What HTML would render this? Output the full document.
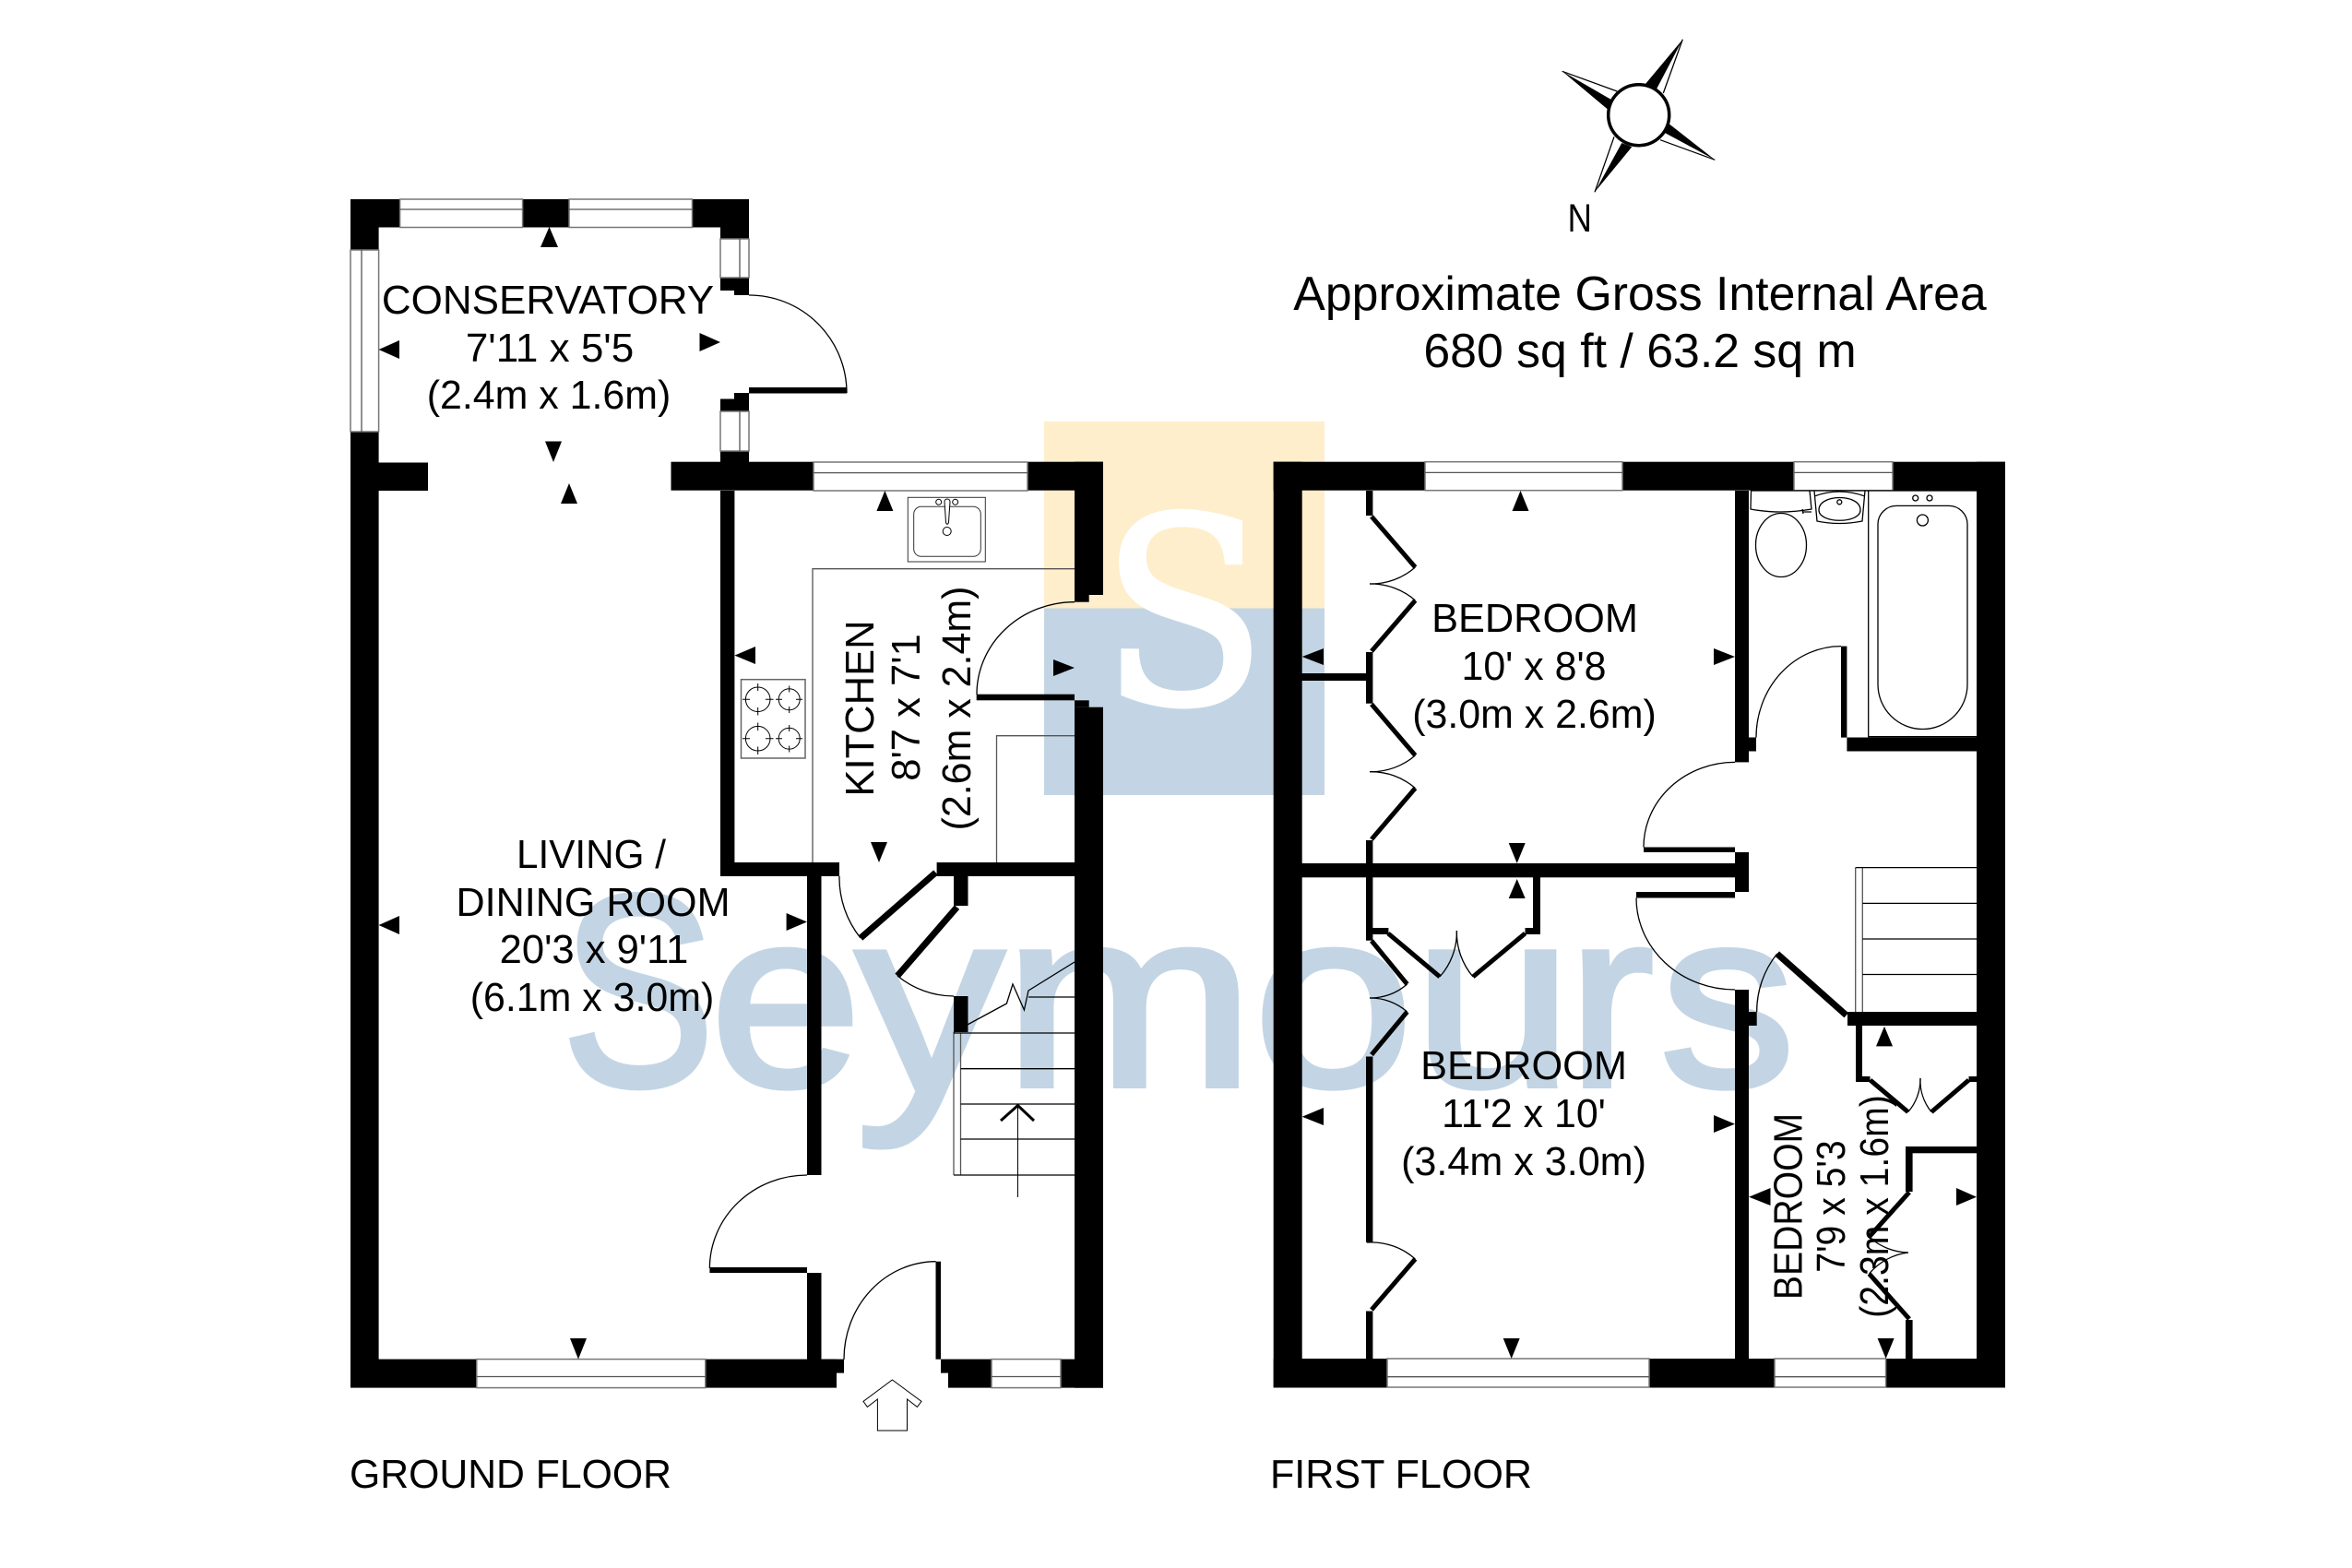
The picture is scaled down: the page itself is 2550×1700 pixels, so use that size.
<!DOCTYPE html>
<html><head><meta charset="utf-8"><style>
html,body{margin:0;padding:0;background:#fff;width:2550px;height:1700px;overflow:hidden}
svg{display:block}
text{font-family:"Liberation Sans",sans-serif;fill:#000}
.t{font-size:44px}
.w{fill:#fff;stroke:#777;stroke-width:1.5}
.l{fill:none;stroke:#000;stroke-width:1.3}
.m{fill:none;stroke:#000;stroke-width:1}
.g{fill:none;stroke:#555;stroke-width:1.3}
.b{fill:none;stroke:#000;stroke-width:7}
</style></head><body>
<svg width="2550" height="1700" viewBox="0 0 2550 1700" xmlns="http://www.w3.org/2000/svg">
<rect width="2550" height="1700" fill="#fff"/>
<!-- watermark -->
<rect x="1132" y="457" width="304" height="203" fill="#FEEECB"/>
<rect x="1132" y="659.5" width="304" height="202.5" fill="#C3D5E4"/>
<text transform="translate(1283.5 762) scale(.94 1)" text-anchor="middle" style="font-family:'DejaVu Serif',serif;font-size:280px;fill:#fff;stroke:#fff;stroke-width:5">S</text>
<text style="fill:#C3D5E4;stroke:#C3D5E4;stroke-width:6;font-size:274px"><tspan x="608.8" y="1176.5" style="font-size:296px" textLength="166.2" lengthAdjust="spacingAndGlyphs">S</tspan><tspan x="769.8" y="1177" textLength="164.4" lengthAdjust="spacingAndGlyphs">e</tspan><tspan x="927.9" y="1184" style="font-size:287px" textLength="160.4" lengthAdjust="spacingAndGlyphs">y</tspan><tspan x="1087.3" y="1177" textLength="273.7" lengthAdjust="spacingAndGlyphs">m</tspan><tspan x="1358.7" y="1177" textLength="174" lengthAdjust="spacingAndGlyphs">o</tspan><tspan x="1532" y="1177" textLength="173.6" lengthAdjust="spacingAndGlyphs">u</tspan><tspan x="1699.8" y="1177" textLength="93.3" lengthAdjust="spacingAndGlyphs">r</tspan><tspan x="1799.9" y="1177" textLength="146.5" lengthAdjust="spacingAndGlyphs">s</tspan></text>

<!-- GROUND FLOOR walls -->
<g fill="#000">
<rect x="380" y="216" width="432" height="30.5"/>
<rect x="380" y="216" width="30.6" height="1288.5"/>
<rect x="781" y="216" width="31" height="99"/>
<rect x="796" y="315" width="16" height="5"/>
<rect x="796" y="426" width="16" height="7"/>
<rect x="781" y="432.5" width="31" height="69"/>
<rect x="812" y="420" width="106" height="6.5"/>
<rect x="380" y="501.5" width="84" height="30.5"/>
<rect x="727.5" y="500.7" width="468.5" height="31"/>
<rect x="1165" y="500.7" width="31" height="144.3"/>
<rect x="1165" y="645" width="15.7" height="7.7"/>
<rect x="1058.7" y="752.7" width="106.3" height="6.6"/>
<rect x="1165" y="759.3" width="15.7" height="7.4"/>
<rect x="1165" y="766.7" width="31" height="738"/>
<rect x="781" y="532" width="15.4" height="418"/>
<rect x="781" y="935" width="129" height="15"/>
<rect x="1015.6" y="935" width="150" height="15"/>
<rect x="875" y="950" width="15.5" height="324"/>
<rect x="769.4" y="1374" width="105.6" height="6"/>
<rect x="875" y="1380" width="15.5" height="94"/>
<rect x="380" y="1473.6" width="527" height="31"/>
<rect x="880" y="1473.6" width="35" height="15"/>
<rect x="1020" y="1473.6" width="8" height="15"/>
<rect x="1028" y="1473.6" width="168" height="31"/>
<rect x="1014.5" y="1367.7" width="5.5" height="106"/>
<rect x="1034" y="950" width="15.5" height="32"/>
<rect x="1034" y="1080" width="15.5" height="39"/>
</g>
<path class="b" d="M933 1017L1014.5 946M1037.5 983.6L973 1058"/>

<!-- ground windows -->
<g class="w">
<rect x="433.6" y="216" width="133" height="30.5"/><rect x="617" y="216" width="133.5" height="30.5"/>
<rect x="380" y="271" width="30.6" height="197"/>
<rect x="781" y="259" width="31" height="42"/><rect x="781" y="446" width="31" height="43"/>
<rect x="882" y="501" width="232" height="31"/>
<rect x="516.8" y="1473.6" width="248" height="31"/>
<rect x="1075" y="1473.6" width="75" height="31"/>
</g>
<path class="g" d="M433.6 227H566.6M617 227H750.5M392 271V468M802 259V301M802 446V489M882 512.6H1114M516.8 1492.5H764.8M1075 1492.5H1150"/>

<!-- ground doors -->
<g class="l">
<path d="M812 320A106 106 0 0 1 918 426"/>
<path d="M1165 652.7A106 100 0 0 0 1059 753"/>
<path d="M875 1274A105.6 101 0 0 0 769.4 1375"/>
<path d="M1014.5 1367.7A100 106 0 0 0 915 1474"/>
<path d="M910 950A104 104 0 0 0 933 1017"/>
<path d="M973 1058A97 97 0 0 0 1034 1080"/>
</g>
<!-- counters -->
<path class="g" d="M1165 616.7H881V935M1165 797.7H1080.5V935"/>
<!-- sink -->
<g class="m">
<rect x="984.3" y="539.3" width="84" height="69.7" stroke="#333"/>
<rect x="990.7" y="549.3" width="72.6" height="54" rx="8" stroke="#333"/>
<path d="M1024 544C1024 540 1030 540 1030 544L1028.5 566C1028 569 1026 569 1025.5 566Z" fill="#fff"/>
<circle cx="1017.7" cy="544.3" r="3"/><circle cx="1035.7" cy="544.3" r="3"/>
<circle cx="1026.7" cy="576" r="4.5"/>
</g>
<!-- hob -->
<g class="m">
<rect x="803.5" y="736.7" width="69.5" height="85.3" stroke="#666" stroke-width="1.5"/>
<circle cx="821.7" cy="758.3" r="13.3"/><circle cx="855.7" cy="758.3" r="11.5"/>
<circle cx="821.7" cy="800.7" r="13.3"/><circle cx="855.7" cy="800.7" r="11.5"/>
<path d="M821.7 741V749M821.7 767V775.5M805 758.3H813M830 758.3H838.5M855.7 743.5V750.5M855.7 766V773M841 758.3H848M863 758.3H870M821.7 783.5V792M821.7 809.5V818M805 800.7H813M830 800.7H838.5M855.7 786V793M855.7 808.5V815.5M841 800.7H848M863 800.7H870"/>
</g>
<!-- stairs ground -->
<path class="g" d="M1034 1119V1274M1041.5 1120V1274"/>
<path class="l" d="M1034 1120H1165M1041.5 1158.7H1165M1041.5 1197H1165M1041.5 1235H1165M1034 1274H1165M1115 1081H1165"/>
<path class="l" d="M1034 1119L1091.4 1088L1098 1067L1110.4 1095L1115 1074L1165 1043"/>
<path class="m" d="M1103.5 1298V1198.5"/>
<path fill="none" stroke="#000" stroke-width="3" d="M1085 1215L1103.5 1198.5L1121 1215"/>
<!-- entrance arrow -->
<path class="m" fill="#fff" d="M967.4 1496L999 1519.4L994.4 1525.4L983.5 1517V1551H951.4V1517L940.4 1525.4L936 1519.4Z"/>

<!-- FIRST FLOOR walls -->
<g fill="#000">
<rect x="1380.7" y="500.7" width="793.3" height="31"/>
<rect x="1380.7" y="500.7" width="31" height="1003.8"/>
<rect x="2143" y="500.7" width="31" height="1003.8"/>
<rect x="1380.7" y="1473" width="793.3" height="31.5"/>
<rect x="1881" y="532" width="15" height="294.4"/>
<rect x="1896" y="799.5" width="8" height="15"/>
<rect x="1996" y="700.6" width="6.4" height="99"/>
<rect x="2002.4" y="799.5" width="140.6" height="15"/>
<rect x="1411" y="936" width="485" height="15.3"/>
<rect x="1881" y="924" width="15" height="43"/>
<rect x="1782" y="918.5" width="99" height="5.5"/>
<rect x="1774" y="967" width="107" height="6.5"/>
<rect x="1881" y="1073" width="15" height="400"/>
<rect x="1896" y="1097" width="8.7" height="15"/>
<rect x="2003" y="1097" width="140" height="15"/>
<rect x="1481" y="532" width="7.4" height="27"/>
<rect x="1481" y="707" width="7.4" height="55.7"/>
<rect x="1411" y="730" width="70" height="8"/>
<rect x="1481" y="911" width="7.4" height="108.7"/>
<rect x="1662" y="951" width="8" height="62"/>
<rect x="1481" y="1006" width="24.4" height="7"/>
<rect x="1653.5" y="1006" width="8.5" height="7"/>
<rect x="1481" y="1145.5" width="7.4" height="201.5"/>
<rect x="1481" y="1421.5" width="7.4" height="51.5"/>
<rect x="2012" y="1112" width="7" height="61"/>
<rect x="2019" y="1167" width="8.5" height="6"/>
<rect x="2134.5" y="1167" width="8.5" height="6"/>
<rect x="2066" y="1243" width="77" height="7.3"/>
<rect x="2066" y="1243" width="7.6" height="49"/>
<rect x="2066" y="1431" width="7.6" height="42"/>
</g>
<g fill="none" stroke="#000" stroke-width="5">
<path d="M1487 560L1534.4 615M1534.4 651L1487 706M1487 763.5L1534.4 819M1534.4 854.5L1487 910"/>
<path d="M1505 1012L1561 1059M1653.5 1012L1597 1059"/>
<path d="M1487 1020L1525.6 1067M1525.6 1097L1487 1143.5"/>
<path d="M1534.4 1365L1487 1420"/>
<path d="M2027.6 1171L2068.7 1205.6M2134.5 1171L2094 1205.6"/>
<path d="M2070 1292.6L2026.5 1341M2070 1430L2026.5 1381"/>
</g>
<path class="b" d="M1926.7 1034L2001.8 1100.8"/>
<!-- first windows -->
<g class="w">
<rect x="1545" y="500.7" width="214" height="31"/><rect x="1945" y="500.7" width="107" height="31"/>
<rect x="1504" y="1473" width="284" height="31"/><rect x="1924" y="1473" width="120.6" height="31"/>
</g>
<path class="g" d="M1545 512.4H1759M1945 512.4H2052M1504 1492.7H1788M1924 1492.7H2044.6"/>
<!-- first doors -->
<g class="l">
<path d="M1904 799.5A92 99 0 0 1 1996 700.6"/>
<path d="M1881 826.4A99 92 0 0 0 1782 918.5"/>
<path d="M1774 973.5A107 99.5 0 0 0 1881 1073"/>
<path d="M1926.7 1034A100 100 0 0 0 1904.7 1097"/>
<path d="M1534.4 615A73 73 0 0 1 1485 633"/><path d="M1534.4 651A73 73 0 0 0 1485 633"/>
<path d="M1534.4 819A73 73 0 0 1 1485 836.7"/><path d="M1534.4 854.5A73 73 0 0 0 1485 836.7"/>
<path d="M1561 1059A73 73 0 0 0 1579.4 1009"/><path d="M1597 1059A74 74 0 0 1 1579.4 1009"/>
<path d="M1525.6 1067A60 60 0 0 1 1485 1082"/><path d="M1525.6 1097A60 60 0 0 0 1485 1082"/>
<path d="M1534.4 1365A72 72 0 0 0 1482 1347"/>
<path d="M2068.7 1205.6A54 54 0 0 0 2082 1169"/><path d="M2094 1205.6A54 54 0 0 1 2082 1169"/>
<path d="M2026.5 1341A65 65 0 0 0 2069 1358"/><path d="M2026.5 1381A65 65 0 0 1 2069 1358"/>
</g>
<!-- stairs first -->
<path class="g" d="M2011.7 940.6V1097M2019.3 940.6V1097"/>
<path class="l" d="M2011.7 940.6H2143M2019.3 979.4H2143M2019.3 1018H2143M2019.3 1056.5H2143"/>
<!-- bathroom -->
<g class="l" fill="none">
<path d="M2025.7 532V798.7H2143M1898 532H2143"/>
<path d="M2036 568A20 20 0 0 1 2056 548.4H2113A20 20 0 0 1 2133 568V742A48.5 48.5 0 0 1 2036 742Z"/>
<circle cx="2084.4" cy="564" r="6"/><circle cx="2076.7" cy="540" r="3"/><circle cx="2092" cy="540" r="3"/>
<path d="M1898.5 532L1898 552Q1930 558 1964 552L1962 532"/>
<ellipse cx="1931" cy="591" rx="27.5" ry="34.5"/>
<path d="M1964 555H1954M1954 552L1955 557"/>
<path d="M1967 532L1970 565Q1994 570 2019 565L2022 532M1967 538Q1994 528 2022 538"/>
<path d="M1972 553C1972 535 2017 535 2017 553C2017 568 1972 568 1972 553Z"/>
<circle cx="1994.3" cy="544.3" r="2.5"/>
</g>

<!-- arrows -->
<g fill="#000">
<path d="M595.5 246L586 268H605Z"/><path d="M410.6 379L433 369V389Z"/><path d="M781 371L758.5 361V381Z"/>
<path d="M600 501L591 478.5H609Z"/><path d="M617 524L608 546H626Z"/><path d="M959.4 532L950.4 554H968.4Z"/>
<path d="M796.4 710.6L819 701V720Z"/><path d="M1165 724L1142 715V733Z"/><path d="M953 935L944 913H962Z"/>
<path d="M410.6 1003L433 993V1013Z"/><path d="M875 999.5L852.6 990V1009Z"/><path d="M627 1473.6L618 1451H636Z"/>
<path d="M1648.5 532L1639.5 554H1657.5Z"/><path d="M1411.7 712L1435 703V721Z"/><path d="M1881 712L1858 703V721Z"/>
<path d="M1644.7 936L1635.7 914H1653.7Z"/><path d="M1644.7 953L1635.7 974H1653.7Z"/>
<path d="M1411.7 1210.7L1435 1201V1220Z"/><path d="M1881 1218.6L1858 1209V1228Z"/><path d="M1638.7 1473L1629.7 1451H1647.7Z"/>
<path d="M1896 1297.7L1919.5 1288V1307Z"/><path d="M2143 1297.7L2121 1288V1307Z"/><path d="M2044.6 1473L2035.6 1451H2053.6Z"/>
<path d="M2043 1112.7L2034 1134.4H2052Z"/>
</g>

<!-- compass -->
<g>
<path fill="#000" d="M1824.3 42.7L1784 91L1796 96.5Z"/><path class="l" d="M1824.3 42.7L1803.3 101"/>
<path fill="#000" d="M1693.7 77.3L1747.3 108.3L1742.7 118.3Z"/><path class="l" d="M1693.7 77.3L1753.3 99"/>
<path fill="#000" d="M1859.3 173.3L1808.3 133.3L1805 144Z"/><path class="l" d="M1859.3 173.3L1800 151.7"/>
<path fill="#000" d="M1729 208.3L1758.3 155L1769.3 159.3Z"/><path class="l" d="M1729 208.3L1750 148.3"/>
<circle cx="1776.7" cy="124.7" r="33" fill="#fff" stroke="#000" stroke-width="3.5"/>
</g>
<text x="1699.5" y="251" textLength="26.5" lengthAdjust="spacingAndGlyphs" style="font-size:43px">N</text>

<!-- area -->
<text x="1778" y="336" text-anchor="middle" style="font-size:51.8px">Approximate Gross Internal Area</text>
<text x="1778" y="398" text-anchor="middle" style="font-size:51.8px">680 sq ft / 63.2 sq m</text>

<!-- labels -->
<g class="t" text-anchor="middle">
<text x="594" y="340">CONSERVATORY</text>
<text x="596" y="392">7'11 x 5'5</text>
<text transform="translate(595 443) scale(.975 1)">(2.4m x 1.6m)</text>
<text transform="translate(641 941) scale(.96 1)">LIVING /</text>
<text transform="translate(643 993) scale(.98 1)">DINING ROOM</text>
<text transform="translate(644 1044) scale(.99 1)">20'3 x 9'11</text>
<text transform="translate(642 1096) scale(.975 1)">(6.1m x 3.0m)</text>
<text transform="translate(1664 685) scale(.985 1)">BEDROOM</text>
<text transform="translate(1663 737) scale(.975 1)">10' x 8'8</text>
<text transform="translate(1663.5 789) scale(.975 1)">(3.0m x 2.6m)</text>
<text transform="translate(1652 1170) scale(.985 1)">BEDROOM</text>
<text transform="translate(1652 1222) scale(.975 1)">11'2 x 10'</text>
<text transform="translate(1652 1274) scale(.98 1)">(3.4m x 3.0m)</text>
</g>
<g class="t">
<text transform="translate(947 768) rotate(-90) scale(.99 1)" text-anchor="middle">KITCHEN</text>
<text transform="translate(997 767) rotate(-90) scale(.99 1)" text-anchor="middle">8'7 x 7'1</text>
<text transform="translate(1052 768) rotate(-90) scale(.976 1)" text-anchor="middle">(2.6m x 2.4m)</text>
<text transform="translate(1953.5 1308) rotate(-90) scale(.89 1)" text-anchor="middle">BEDROOM</text>
<text transform="translate(2000 1308) rotate(-90) scale(.89 1)" text-anchor="middle">7'9 x 5'3</text>
<text transform="translate(2047 1308) rotate(-90) scale(.89 1)" text-anchor="middle">(2.3m x 1.6m)</text>
<text x="379" y="1613" textLength="349" lengthAdjust="spacingAndGlyphs">GROUND FLOOR</text>
<text x="1377" y="1613" textLength="284" lengthAdjust="spacingAndGlyphs">FIRST FLOOR</text>
</g>
</svg>
</body></html>
